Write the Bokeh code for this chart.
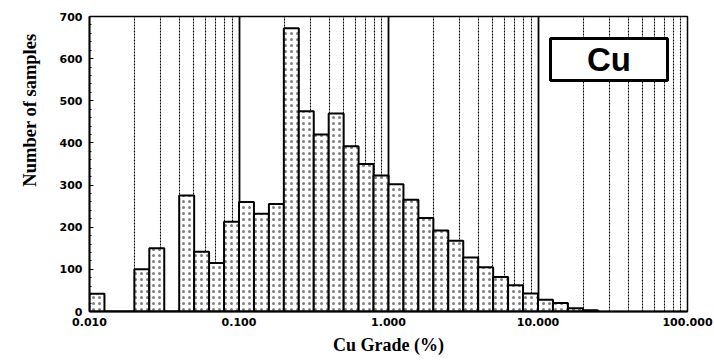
from bokeh.plotting import figure
from bokeh.models import (Range1d, FixedTicker, SingleIntervalTicker, PrintfTickFormatter,
                          Label, BoxAnnotation, ColumnDataSource, Title)
from bokeh.embed import file_html
from bokeh.resources import INLINE

# ---- data ----
bin_start_log = -2.0          # first bin starts at 0.010 %
bin_step_log = 0.1            # 10 bins per decade
counts = [42, 0, 0, 100, 150, 0, 275, 142, 115, 213,
          260, 232, 255, 672, 475, 420, 470, 392, 350, 323,
          302, 265, 222, 192, 168, 128, 105, 82, 62, 43,
          28, 20, 8, 3]
x_major_ticks = [0.01, 0.1, 1.0, 10.0, 100.0]
x_minor_ticks = [m * 10.0 ** e for e in range(-2, 2) for m in range(2, 10)]
y_max = 700
label_text = "Cu"

lefts = [10 ** (bin_start_log + bin_step_log * k) for k in range(len(counts))]
rights = [10 ** (bin_start_log + bin_step_log * (k + 1)) for k in range(len(counts))]
src = ColumnDataSource(dict(left=lefts, right=rights, top=counts, bottom=[0] * len(counts)))

p = figure(width=714, height=361, x_axis_type="log",
           x_range=Range1d(0.01, 100), y_range=Range1d(0, y_max),
           output_backend="svg", toolbar_location=None,
           min_border_left=89, min_border_right=27, min_border_top=16, min_border_bottom=50)
p.background_fill_color = "white"
p.border_fill_color = "white"
p.outline_line_color = "black"
p.outline_line_width = 1.5

xt = FixedTicker(ticks=x_major_ticks, minor_ticks=x_minor_ticks)
p.xaxis.ticker = xt
p.xgrid.ticker = xt
p.xaxis.formatter = PrintfTickFormatter(format="%.3f")
p.yaxis.ticker = SingleIntervalTicker(interval=100, num_minor_ticks=5)

p.xgrid.grid_line_color = "black"
p.xgrid.grid_line_width = 1.8
p.xgrid.minor_grid_line_color = "black"
p.xgrid.minor_grid_line_dash = "2 1"
p.xgrid.minor_grid_line_width = 1.1
p.ygrid.grid_line_color = None

for ax in (p.xaxis[0], p.yaxis[0]):
    ax.axis_line_color = "black"
    ax.axis_line_width = 1.8
    ax.major_tick_line_color = "black"
    ax.minor_tick_line_color = "black"
    ax.major_tick_in = 4
    ax.major_tick_out = 0
    ax.minor_tick_in = 2
    ax.minor_tick_out = 0
    ax.major_label_text_font = "DejaVu Sans"
    ax.major_label_text_font_style = "bold"
    ax.major_label_text_font_size = "11px"
    ax.major_label_text_color = "black"
p.xaxis.minor_tick_line_color = None
p.xaxis.major_label_standoff = 6
p.yaxis.major_label_standoff = 7

p.xaxis.axis_label = "Cu Grade (%)"
p.xaxis.axis_label_text_font = "Liberation Serif"
p.xaxis.axis_label_text_font_style = "bold"
p.xaxis.axis_label_text_font_size = "18px"
p.xaxis.axis_label_text_color = "black"
p.xaxis.axis_label_standoff = 6

p.add_layout(Title(text="Number of samples", align="right", offset=17, standoff=33,
                   text_font="Liberation Serif", text_font_style="bold",
                   text_font_size="18.5px", text_color="black"), "left")

p.quad(left="left", right="right", top="top", bottom="bottom", source=src,
       fill_color="white", line_color="black", line_width=2,
       hatch_pattern="dot", hatch_color="black", hatch_scale=6, hatch_weight=1, hatch_alpha=0.5)

p.add_layout(BoxAnnotation(left=461, right=578, top=273, bottom=231,
                           left_units="screen", right_units="screen",
                           top_units="screen", bottom_units="screen",
                           fill_color="white", fill_alpha=1.0,
                           line_color="black", line_alpha=1.0, line_width=3, level="overlay"))
p.add_layout(Label(x=519.5, y=252, x_units="screen", y_units="screen", text=label_text,
                   text_align="center", text_baseline="middle",
                   text_font="Liberation Sans", text_font_style="bold",
                   text_font_size="33px", text_color="black", level="overlay"))

open("out.html", "w").write(file_html(p, INLINE))
